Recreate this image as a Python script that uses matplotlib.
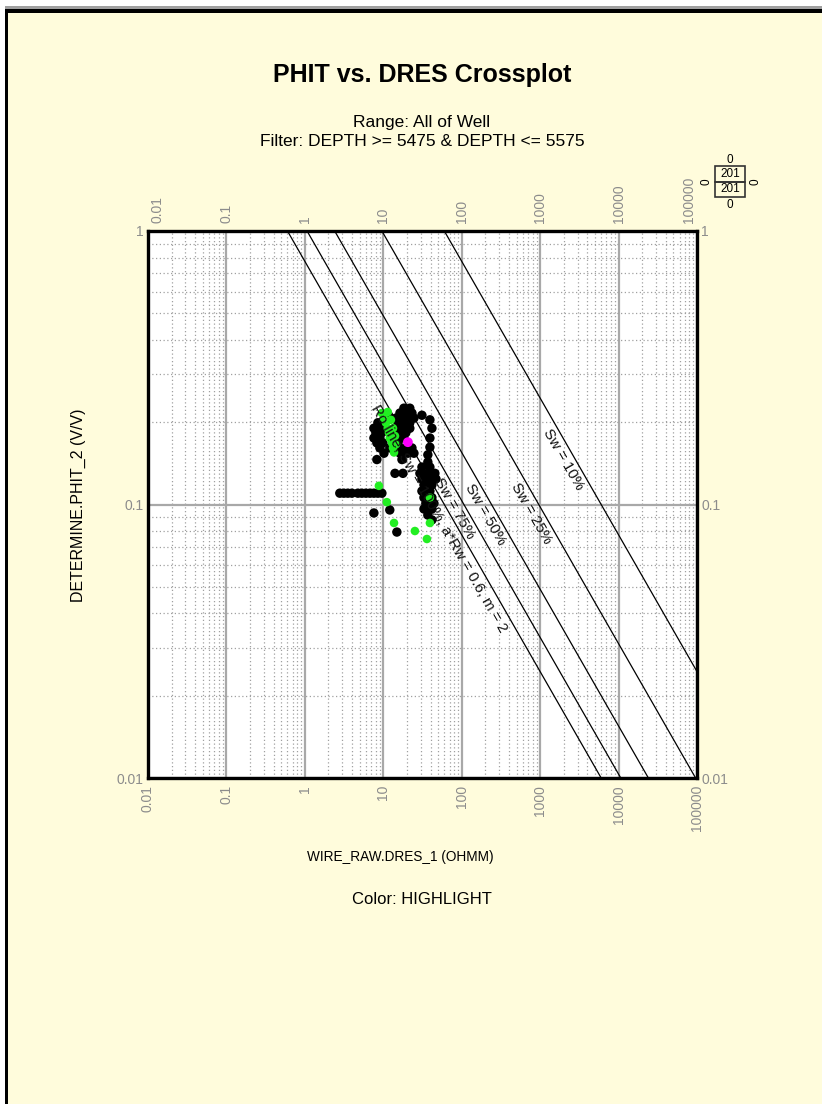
import numpy as np
import matplotlib
matplotlib.use('Agg')
import matplotlib.pyplot as plt
from matplotlib.patches import Rectangle
from matplotlib.ticker import FixedLocator, NullFormatter, LogLocator

plt.rcParams['font.family'] = ['Liberation Sans', 'DejaVu Sans']

# ---------------- data ----------------
a_rw = 0.6
m_exp = 2
n_exp = 2
sw_values = [1.0, 0.75, 0.5, 0.25, 0.10]
sw_labels = ['Ro line, Sw = 100%, a*Rw = 0.6, m = 2', 'Sw = 75%', 'Sw = 50%', 'Sw = 25%', 'Sw = 10%']
label_phi = [0.093, 0.101, 0.0963, 0.097, 0.152]

black_rt = [18.3, 21.8,
            16.3, 19.4, 23.2,
            14.5, 17.3, 20.6, 24.6, 12.1,
            8.53, 10.2, 15.4, 18.3, 21.8,
            7.59, 9.05, 15.4, 18.3, 21.8,
            8.05, 9.60, 16.3, 19.4, 12.9,
            7.59, 9.05, 15.4, 18.3,
            8.28, 9.89, 15.4,
            9.05, 16.3, 19.4, 23.2, 12.1,
            10.2, 16.3, 20.6, 24.6,
            8.28, 17.3,
            31.1, 39.3, 41.7, 39.3, 39.3, 37.0, 37.0,
            31.1, 39.3,
            29.3, 37.0, 45.5,
            31.1, 39.3, 46.9,
            33.0, 41.7,
            31.1, 39.3,
            33.0, 41.7,
            34.9, 44.2,
            33.0, 41.7,
            37.0, 41.7,
            14.1, 17.8, 7.59, 12.1, 14.9,
            2.79, 3.14, 3.53, 3.98, 4.74, 5.33, 6.00, 6.75, 7.59, 8.53, 9.60]
black_phi = [0.225, 0.225,
             0.216, 0.216, 0.216,
             0.207, 0.207, 0.207, 0.207, 0.207,
             0.199, 0.199, 0.199, 0.199, 0.199,
             0.190, 0.190, 0.190, 0.190, 0.190,
             0.183, 0.183, 0.183, 0.183, 0.183,
             0.175, 0.175, 0.175, 0.175,
             0.168, 0.168, 0.168,
             0.161, 0.161, 0.161, 0.161, 0.161,
             0.154, 0.154, 0.154, 0.154,
             0.146, 0.146,
             0.212, 0.204, 0.190, 0.175, 0.162, 0.152, 0.143,
             0.137, 0.137,
             0.130, 0.130, 0.130,
             0.124, 0.124, 0.124,
             0.118, 0.118,
             0.112, 0.112,
             0.106, 0.106,
             0.101, 0.101,
             0.0963, 0.0963,
             0.0915, 0.0878,
             0.130, 0.130, 0.0931, 0.0955, 0.0793,
             0.110, 0.110, 0.110, 0.110, 0.110, 0.110, 0.110, 0.110, 0.110, 0.110, 0.110]

green_rt = [9.60, 10.2, 10.8, 11.4, 11.8, 12.1, 12.9, 13.3, 13.7,
            11.4, 12.5, 13.3, 14.1, 14.5,
            8.79, 11.1, 13.7, 25.3, 39.3, 39.3, 36.0]
green_phi = [0.216, 0.207, 0.199, 0.190, 0.183, 0.175, 0.168, 0.161, 0.155,
             0.218, 0.204, 0.190, 0.178, 0.166,
             0.117, 0.102, 0.0856, 0.0800, 0.106, 0.0856, 0.0748]

magenta_rt = [20.6]
magenta_phi = [0.169]

x_ticks = [0.01, 0.1, 1, 10, 100, 1000, 10000, 100000]
x_tick_labels = ['0.01', '0.1', '1', '10', '100', '1000', '10000', '100000']
y_ticks = [0.01, 0.1, 1]
y_tick_labels = ['0.01', '0.1', '1']

# ---------------- figure ----------------
W, H = 822, 1104
fig = plt.figure(figsize=(W / 100, H / 100), dpi=100, facecolor='white')


def fx(px):
    return px / W


def fy(py):
    return 1 - py / H


yellow = '#FFFCDC'
fig.add_artist(Rectangle((fx(5), 0), 1 - fx(5), fy(9) - 0, transform=fig.transFigure,
                         facecolor=yellow, edgecolor='none', zorder=0))
fig.add_artist(Rectangle((fx(5), fy(9)), 1 - fx(5), 3 / H, transform=fig.transFigure,
                         facecolor='#A0A0A0', edgecolor='none', zorder=1))
fig.add_artist(Rectangle((fx(5), fy(13.3)), 1 - fx(5), 4.3 / H, transform=fig.transFigure,
                         facecolor='black', edgecolor='none', zorder=1))
fig.add_artist(Rectangle((fx(5), 0), 3.4 / W, fy(9), transform=fig.transFigure,
                         facecolor='black', edgecolor='none', zorder=1))

ax = fig.add_axes([fx(148), fy(778), fx(697) - fx(148), fy(231) - fy(778)])
ax.set_facecolor('white')
ax.set_xscale('log')
ax.set_yscale('log')
ax.set_xlim(0.01, 100000)
ax.set_ylim(0.01, 1)

grid_col = '#A8A8A8'
ax.xaxis.set_major_locator(FixedLocator(x_ticks))
ax.yaxis.set_major_locator(FixedLocator(y_ticks))
ax.xaxis.set_minor_locator(LogLocator(base=10, subs=np.arange(2, 10), numticks=20))
ax.yaxis.set_minor_locator(LogLocator(base=10, subs=np.arange(2, 10), numticks=20))
ax.xaxis.set_minor_formatter(NullFormatter())
ax.yaxis.set_minor_formatter(NullFormatter())
ax.set_xticklabels(x_tick_labels)
ax.set_yticklabels(y_tick_labels)
ax.grid(which='major', color=grid_col, linewidth=1.6, linestyle='-', zorder=1)
ax.grid(which='minor', color='#A0A0A0', linewidth=0.9, linestyle=(0, (1, 2)), zorder=1)
ax.set_axisbelow(True)

tick_col = '#8C8C8C'
ax.tick_params(which='both', length=0)
ax.tick_params(axis='x', which='major', labeltop=False, labelbottom=True, labelrotation=90,
               labelsize=10, labelcolor=tick_col, pad=5)
ax.tick_params(axis='y', which='major', labelleft=True, labelright=True,
               labelsize=10, labelcolor=tick_col, pad=3)

# top tick labels (first and last pulled inside, as in the reference)
top_shift = [7, 0, 0, 0, 0, 0, 0, -6]
for xt, lbl, dx in zip(x_ticks, x_tick_labels, top_shift):
    ax.annotate(lbl, xy=(xt, 1), xycoords=('data', 'axes fraction'),
                xytext=(dx, 6), textcoords='offset points', rotation=90,
                ha='center', va='bottom', fontsize=10, color=tick_col, annotation_clip=False)

for sp in ax.spines.values():
    sp.set_linewidth(2.4)
    sp.set_color('black')
    sp.set_zorder(10)

# Archie lines
phi_line = np.array([0.005, 1.5])
for sw in sw_values:
    rt_line = a_rw / (phi_line ** m_exp * sw ** n_exp)
    ax.plot(rt_line, phi_line, color='black', linewidth=0.9, zorder=3)

# scatter
ax.scatter(black_rt, black_phi, s=46, color='black', edgecolors='none', zorder=4)
ax.scatter(green_rt, green_phi, s=38, color='#22EE22', edgecolors='none', zorder=5)
ax.scatter(magenta_rt, magenta_phi, s=50, color='#FF00FF', edgecolors='none', zorder=6)

# line labels
fig.canvas.draw()
for sw, lab, ph in zip(sw_values, sw_labels, label_phi):
    rt = a_rw / (ph ** m_exp * sw ** n_exp)
    p1 = ax.transData.transform((rt, ph))
    p2 = ax.transData.transform((rt * 10, ph / 10 ** 0.5))
    ang = np.degrees(np.arctan2(p2[1] - p1[1], p2[0] - p1[0]))
    th = np.radians(ang)
    off = 7.5 if sw < 1 else 8.5
    nx, ny = np.sin(th) * off, -np.cos(th) * off
    if nx > 0:
        nx, ny = -nx, -ny
    ax.annotate(lab, (rt, ph), xytext=(nx, ny), textcoords='offset points',
                rotation=ang, rotation_mode='anchor', ha='center', va='center',
                fontsize=10.8, color='#111111', zorder=7)

# texts
fig.text(fx(422), fy(75), 'PHIT vs. DRES Crossplot', ha='center', va='center',
         fontsize=18, fontweight='bold')
fig.text(fx(422), fy(123), 'Range: All of Well', ha='center', va='center', fontsize=12.5)
fig.text(fx(422), fy(141), 'Filter: DEPTH >= 5475 & DEPTH <= 5575', ha='center', va='center',
         fontsize=12.5)
fig.text(fx(400), fy(857), 'WIRE_RAW.DRES_1 (OHMM)', ha='center', va='center', fontsize=9.8)
fig.text(fx(422), fy(899), 'Color: HIGHLIGHT', ha='center', va='center', fontsize=12)
fig.text(fx(78), fy(505), 'DETERMINE.PHIT_2 (V/V)', ha='center', va='center', rotation=90,
         fontsize=11.5)

# legend count box
fig.add_artist(Rectangle((fx(715), fy(197)), 30 / W, 15.5 / H, transform=fig.transFigure,
                         facecolor='none', edgecolor='#333333', linewidth=1.2))
fig.add_artist(Rectangle((fx(715), fy(181.5)), 30 / W, 15.5 / H, transform=fig.transFigure,
                         facecolor='none', edgecolor='#333333', linewidth=1.2))
fig.text(fx(730), fy(174), '201', ha='center', va='center', fontsize=8.5)
fig.text(fx(730), fy(189.5), '201', ha='center', va='center', fontsize=8.5)
fig.text(fx(730), fy(160), '0', ha='center', va='center', fontsize=8.5)
fig.text(fx(730), fy(205), '0', ha='center', va='center', fontsize=8.5)
fig.text(fx(706), fy(182), '0', ha='center', va='center', fontsize=8.5, rotation=90)
fig.text(fx(755), fy(182), '0', ha='center', va='center', fontsize=8.5, rotation=90)

fig.savefig('out.png', dpi=100, facecolor='white')
